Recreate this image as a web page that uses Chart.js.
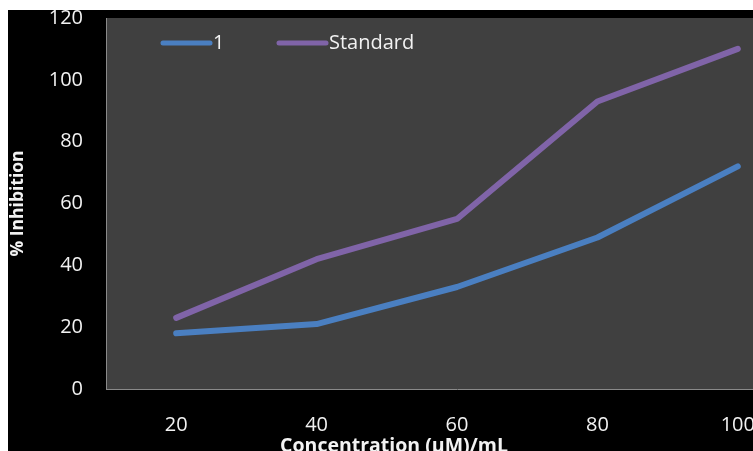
<!DOCTYPE html>
<html>
<head>
<meta charset="utf-8">
<script src="https://cdn.jsdelivr.net/npm/chart.js@4.4.1/dist/chart.umd.min.js"></script>
<style>
  html, body { background: #ffffff; overflow: hidden; }
  body { margin: 10px 0 0 8px; width: 745px; height: 441px; }
  #wrap { width: 810px; height: 460px; }
  canvas { display: block; }
</style>
</head>
<body>
<div id="wrap"><canvas id="chart" width="810" height="460"></canvas></div>
<script>
// Concentration levels (µM/mL) on the x axis
const concentrations = ['20', '40', '60', '80', '100'];
// % inhibition for compound 1 and the reference standard
const compound1 = [18, 21, 33, 49, 72];
const standard = [23, 42, 55, 93, 110];
const seriesNames = ['1', 'Standard'];
const yTicks = [0, 20, 40, 60, 80, 100, 120];
const xTitle = 'Concentration (µM)/mL';
const yTitle = '% Inhibition';

const FONT = '"Open Sans", "Liberation Sans", sans-serif';
const TEXT = '#f2f2f2';

// Dark plot area on a black canvas
const backdrop = {
  id: 'backdrop',
  beforeDraw(chart) {
    const { ctx, chartArea: a, width, height } = chart;
    ctx.save();
    ctx.fillStyle = '#000000';
    ctx.fillRect(0, 0, width, height);
    ctx.fillStyle = '#404040';
    ctx.fillRect(a.left, a.top, a.right - a.left, a.bottom - a.top);
    ctx.restore();
  }
};

// Legend inside the plot area (top-left) and the x-axis caption
const overlays = {
  id: 'overlays',
  afterDraw(chart) {
    const { ctx, chartArea: a } = chart;
    const starts = [57, 173];
    ctx.save();
    ctx.font = '20px ' + FONT;
    ctx.textBaseline = 'middle';
    chart.data.datasets.forEach((ds, i) => {
      const x = a.left + starts[i];
      const y = a.top + 25;
      ctx.strokeStyle = ds.borderColor;
      ctx.lineWidth = 5;
      ctx.lineCap = 'round';
      ctx.beginPath();
      ctx.moveTo(x, y);
      ctx.lineTo(x + 47, y);
      ctx.stroke();
      ctx.fillStyle = TEXT;
      ctx.fillText(ds.label, x + 50, y);
    });
    ctx.font = 'bold 19.5px ' + FONT;
    ctx.textAlign = 'center';
    ctx.textBaseline = 'alphabetic';
    ctx.fillText(xTitle, 386, a.bottom + 63);
    ctx.restore();
  }
};

new Chart(document.getElementById('chart'), {
  type: 'line',
  data: {
    labels: concentrations,
    datasets: [
      { label: seriesNames[0], data: compound1, borderColor: '#4a7fc1' },
      { label: seriesNames[1], data: standard, borderColor: '#8064a8' }
    ]
  },
  options: {
    responsive: false,
    animation: false,
    devicePixelRatio: 1,
    layout: { padding: { top: 8, right: 10, left: 0, bottom: 13 } },
    elements: {
      line: { borderWidth: 6, tension: 0, borderCapStyle: 'round', borderJoinStyle: 'round', fill: false },
      point: { radius: 0, hoverRadius: 0 }
    },
    plugins: { legend: { display: false }, tooltip: { enabled: false } },
    scales: {
      x: {
        offset: true,
        grid: { display: false, drawTicks: false },
        border: { display: true, color: '#8a8a8a', width: 1 },
        ticks: { color: TEXT, font: { family: FONT, size: 20 }, padding: 24, maxRotation: 0 },
        afterFit(scale) { scale.height = 68; scale.paddingLeft = 0; scale.paddingRight = 0; }
      },
      y: {
        min: 0,
        max: 120,
        afterBuildTicks(scale) { scale.ticks = yTicks.map(v => ({ value: v })); },
        grid: { display: false, drawTicks: false },
        border: { display: true, color: '#8a8a8a', width: 1 },
        ticks: { color: TEXT, font: { family: FONT, size: 20 }, padding: 23 },
        title: { display: true, text: yTitle, color: TEXT, font: { family: FONT, size: 17.5, weight: 'bold' }, padding: { top: 0, bottom: 0 } },
        afterFit(scale) { scale.width = 98; scale.paddingTop = 0; scale.paddingBottom = 0; }
      }
    }
  },
  plugins: [backdrop, overlays]
});
</script>
</body>
</html>
